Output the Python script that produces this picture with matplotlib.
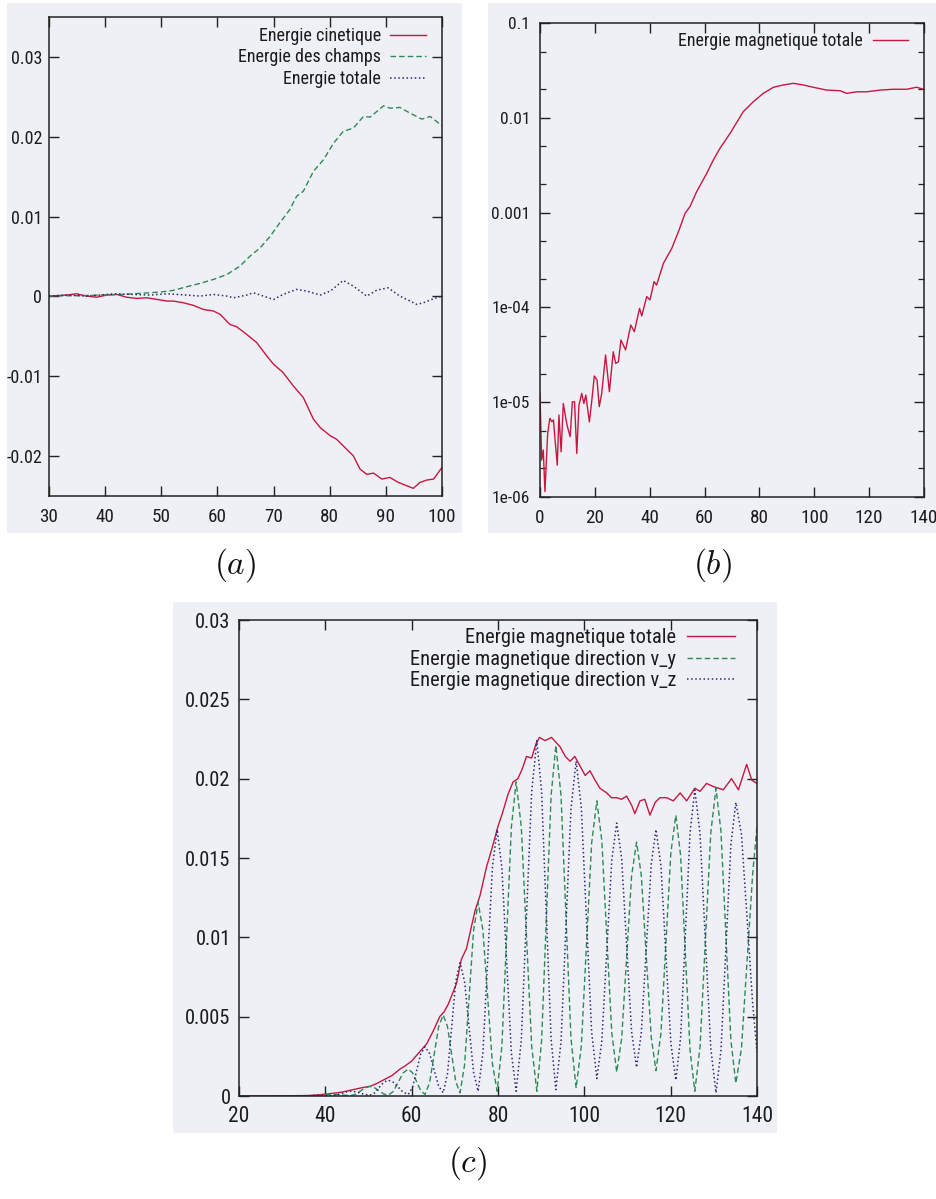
import matplotlib
matplotlib.use("Agg")
import matplotlib.pyplot as plt
from matplotlib import font_manager
from matplotlib.patches import Rectangle

# ---------------- data: panel (a) ----------------
a_cin_x = [30.0, 33.15, 34.9, 36.7, 38.5, 40.3, 42.1, 43.8, 45.6, 47.4, 49.2, 51.0, 52.1, 53.9, 55.7,
           57.5, 59.3, 60.5, 62.2, 63.4, 65.2, 67.0, 68.8, 70.0, 71.7, 73.5, 75.3, 77.1, 78.3, 80.1,
           81.2, 83.0, 84.2, 85.4, 86.6, 87.8, 89.3, 90.7, 92.2, 93.7, 94.9, 96.1, 97.3, 98.5, 100.0]
a_cin_y = [0.00004, 0.00017, 0.00033, 0.00004, -0.0001, 0.00017, 0.00025, -0.0001, -0.00025, -0.00017,
           -0.00037, -0.00058, -0.00058, -0.00079, -0.00112, -0.00163, -0.00183, -0.00225, -0.0035,
           -0.00379, -0.00475, -0.00579, -0.00746, -0.0085, -0.00954, -0.0112, -0.01267, -0.01538,
           -0.01642, -0.01746, -0.01788, -0.01913, -0.01996, -0.02163, -0.02229, -0.02213, -0.02288,
           -0.02267, -0.02329, -0.02371, -0.02404, -0.02329, -0.023, -0.02288, -0.02142]

a_cha_x = [30.0, 36.0, 43.2, 49.8, 52.1, 54.5, 56.9, 59.3, 61.7, 64.0, 65.8, 67.6, 69.4, 71.1, 72.9,
           74.1, 75.3, 77.1, 78.9, 80.7, 82.4, 84.2, 86.0, 87.2, 88.4, 89.6, 90.7, 92.5, 94.3, 96.4,
           97.9, 100.0]
a_cha_y = [0.00005, 0.0001, 0.00025, 0.00054, 0.00075, 0.00121, 0.00163, 0.00213, 0.00275, 0.00379,
           0.00504, 0.00608, 0.00754, 0.00921, 0.01088, 0.01254, 0.01317, 0.01567, 0.01713, 0.01921,
           0.02067, 0.02108, 0.02254, 0.02246, 0.02317, 0.02388, 0.02358, 0.02367, 0.02296, 0.02221,
           0.02254, 0.02138]

a_tot_x = [30.0, 33.15, 36.7, 39.1, 41.5, 45.0, 48.0, 51.0, 54.5, 56.9, 59.3, 61.7, 62.9, 65.2, 66.4,
           68.2, 70.0, 71.7, 74.1, 75.9, 78.3, 80.1, 82.4, 84.2, 86.6, 88.4, 90.4, 92.5, 95.5, 96.7,
           98.5, 100.0]
a_tot_y = [0.00004, 0.00017, 0.00004, 0.00017, 0.00033, 0.00025, 0.00017, 0.00033, 0.00017, 0.00004,
           0.00025, 0.00004, -0.00017, 0.00017, 0.00046, 0.00004, -0.00038, 0.00025, 0.00088, 0.00067,
           0.00017, 0.00067, 0.002, 0.00129, 0.00004, 0.00079, 0.00108, 0.00004, -0.001, -0.00079,
           -0.00029, 0.00004]

# ---------------- data: panel (b) ----------------
b_x = [0.0, 0.6, 1.2, 1.8, 2.8, 3.6, 4.3, 4.9, 5.5, 6.3, 6.9, 7.7, 8.5, 9.4, 10.0, 11.0, 11.8, 12.6,
       13.4, 14.2, 15.2, 16.0, 16.7, 18.0, 18.9, 19.8, 20.8, 21.6, 22.5, 23.9, 25.3, 26.7, 27.6, 28.6,
       29.5, 31.2, 33.1, 34.4, 36.3, 37.1, 38.9, 40.1, 41.6, 42.5, 45.0, 48.0, 50.7, 52.9, 54.7, 57.1,
       60.8, 63.2, 65.6, 69.3, 74.1, 77.8, 81.4, 85.1, 88.7, 92.4, 96.0, 99.6, 104.5, 109.4, 111.8,
       115.5, 119.1, 124.0, 128.8, 133.7, 137.3, 139.8]
b_y = [1.24e-5, 2.45e-6, 3.13e-6, 1.14e-6, 4.7e-6, 6.76e-6, 6.22e-6, 6.49e-6, 3.99e-6, 2.17e-6,
       7.33e-6, 3.0e-6, 9.7e-6, 6.76e-6, 5.52e-6, 4.33e-6, 1.01e-5, 1.01e-5, 2.88e-6, 9.3e-6,
       1.24e-5, 9.7e-6, 1.19e-5, 6.2e-6, 1.05e-5, 1.89e-5, 1.71e-5, 8.97e-6, 1.24e-5, 3.15e-5,
       1.29e-5, 3.41e-5, 2.57e-5, 2.67e-5, 4.53e-5, 3.56e-5, 6.52e-5, 5.55e-5, 9.77e-5, 8.13e-5,
       1.30e-4, 1.20e-4, 1.87e-4, 1.72e-4, 2.92e-4, 4.17e-4, 6.55e-4, 9.84e-4, 1.16e-3, 1.66e-3,
       2.60e-3, 3.59e-3, 4.76e-3, 6.85e-3, 1.16e-2, 1.48e-2, 1.81e-2, 2.10e-2, 2.22e-2, 2.31e-2,
       2.22e-2, 2.10e-2, 1.96e-2, 1.93e-2, 1.81e-2, 1.88e-2, 1.88e-2, 1.96e-2, 2.0e-2, 2.0e-2,
       2.1e-2, 2.0e-2]

# ---------------- data: panel (c) ----------------
c_tot_x = [20.0, 30.0, 36.0, 40.3, 44.0, 46.4, 49.0, 50.5, 52.0, 53.4, 55.5, 57.3, 58.5, 60.0, 61.9,
           63.5, 65.0, 66.5, 67.5, 68.5, 70.4, 71.5, 72.7, 74.7, 75.8, 77.4, 78.5, 80.0, 81.0, 82.3,
           83.5, 84.6, 85.6, 86.6, 87.8, 88.8, 89.6, 90.9, 92.4, 94.4, 95.6, 96.7, 97.8, 99.0, 100.2,
           101.3, 102.5, 103.6, 105.2, 106.3, 107.5, 108.6, 109.8, 111.0, 111.7, 112.9, 114.0, 115.2,
           116.4, 117.5, 119.1, 120.6, 122.2, 123.7, 125.6, 126.8, 128.3, 129.9, 132.2, 134.1, 135.7,
           137.6, 138.8, 140.0]
c_tot_y = [0.0, 0.00001, 0.00003, 0.00012, 0.00025, 0.0004, 0.00055, 0.00062, 0.0008, 0.001, 0.0013,
           0.0017, 0.0019, 0.0022, 0.0028, 0.0033, 0.0041, 0.005, 0.0053, 0.0058, 0.0071, 0.0086,
           0.0093, 0.0117, 0.0126, 0.0145, 0.0155, 0.017, 0.0178, 0.019, 0.0198, 0.02, 0.0206, 0.0214,
           0.0213, 0.0222, 0.0226, 0.0224, 0.0226, 0.022, 0.0214, 0.0211, 0.0214, 0.0208, 0.0202,
           0.0205, 0.0199, 0.0194, 0.0191, 0.0188, 0.0188, 0.0187, 0.0189, 0.0183, 0.0178, 0.0186,
           0.0187, 0.0177, 0.0185, 0.0188, 0.0188, 0.0186, 0.0191, 0.0186, 0.0194, 0.0192, 0.0197,
           0.0195, 0.0193, 0.02, 0.0193, 0.0209, 0.0199, 0.0197]

c_vy_x = [20.0, 30.0, 37.0, 41.5, 42.6, 43.75, 44.9, 46.0, 47.1, 48.15, 49.2, 50.3, 51.4, 52.45, 53.5,
          54.6, 55.75, 56.9, 58.05, 59.2, 60.2, 61.15, 62.1, 63.1, 64.15, 65.2, 66.25, 67.3, 68.3,
          69.25, 70.2, 71.2, 72.25, 73.3, 74.35, 75.4, 76.5, 77.6, 78.7, 79.8, 80.9, 82.0, 83.1, 84.2,
          85.4, 86.6, 87.8, 89.0, 90.1, 91.2, 92.3, 93.4, 94.6, 95.75, 96.9, 98.1, 99.3, 100.5, 101.7,
          102.9, 104.05, 105.2, 106.35, 107.5, 108.65, 109.8, 110.95, 112.1, 113.2, 114.35, 115.5,
          116.6, 117.75, 118.9, 120.05, 121.2, 122.3, 123.4, 124.5, 125.6, 126.8, 128.05, 129.3,
          130.5, 131.65, 132.8, 133.95, 135.1, 136.4, 137.7, 139.0, 140.0]
c_vy_y = [0.0, 0.0, 0.00002, 0.0001, 0.00009, 0.000065, 0.00004, 0.00003, 0.000113, 0.000315,
          0.000517, 0.0006, 0.00052, 0.000325, 0.00013, 0.00005, 0.00029, 0.000875, 0.00146, 0.0017,
          0.00147, 0.0009, 0.00033, 0.0001, 0.00083, 0.0026, 0.00437, 0.0051, 0.00438, 0.00265,
          0.00092, 0.0002, 0.00195, 0.0062, 0.01045, 0.0122, 0.01046, 0.00625, 0.00204, 0.0003,
          0.00315, 0.01005, 0.01695, 0.0198, 0.01695, 0.01005, 0.00315, 0.0003, 0.00348, 0.0112,
          0.01892, 0.0221, 0.01895, 0.0113, 0.00365, 0.0005, 0.00314, 0.00955, 0.01596, 0.0186,
          0.0161, 0.01005, 0.004, 0.0015, 0.00362, 0.00875, 0.01388, 0.016, 0.0139, 0.0088, 0.0037,
          0.0016, 0.00395, 0.00965, 0.01535, 0.0177, 0.01516, 0.009, 0.00284, 0.0003, 0.00309,
          0.00985, 0.01661, 0.0194, 0.01668, 0.0101, 0.00352, 0.0008, 0.003, 0.0085, 0.014, 0.017]

c_vz_x = [20.0, 30.0, 37.0, 41.5, 42.6, 43.75, 44.9, 46.0, 47.1, 48.15, 49.2, 50.3, 51.4, 52.45, 53.5,
          54.6, 55.75, 56.9, 58.05, 59.2, 60.2, 61.15, 62.1, 63.1, 64.15, 65.2, 66.25, 67.3, 68.3,
          69.25, 70.2, 71.2, 72.25, 73.3, 74.35, 75.4, 76.5, 77.6, 78.7, 79.8, 80.9, 82.0, 83.1, 84.2,
          85.4, 86.6, 87.8, 89.0, 90.1, 91.2, 92.3, 93.4, 94.6, 95.75, 96.9, 98.1, 99.3, 100.5, 101.7,
          102.9, 104.05, 105.2, 106.35, 107.5, 108.65, 109.8, 110.95, 112.1, 113.2, 114.35, 115.5,
          116.6, 117.75, 118.9, 120.05, 121.2, 122.3, 123.4, 124.5, 125.6, 126.8, 128.05, 129.3,
          130.5, 131.65, 132.8, 133.95, 135.1, 136.4, 137.7, 139.0, 140.0]
c_vz_y = [0.0, 0.0, 0.00002, 0.00002, 0.00006, 0.00016, 0.00026, 0.0003, 0.00026, 0.00018, 0.00009,
          0.00005, 0.00019, 0.00053, 0.00086, 0.001, 0.00087, 0.00055, 0.00023, 0.0001, 0.00054,
          0.0016, 0.00266, 0.0031, 0.00268, 0.00165, 0.00062, 0.0002, 0.0014, 0.0043, 0.0072, 0.0084,
          0.00722, 0.00435, 0.00148, 0.0003, 0.00271, 0.00855, 0.01439, 0.0168, 0.01439, 0.00855,
          0.00271, 0.0003, 0.00353, 0.01135, 0.01917, 0.0224, 0.01919, 0.0114, 0.00361, 0.0004,
          0.00342, 0.01075, 0.01808, 0.0211, 0.01818, 0.0111, 0.00402, 0.0011, 0.00345, 0.00915,
          0.01485, 0.0172, 0.01495, 0.0095, 0.00405, 0.0018, 0.00399, 0.0093, 0.01461, 0.0168,
          0.01449, 0.0089, 0.00331, 0.001, 0.00367, 0.01015, 0.01663, 0.0193, 0.01651, 0.00975,
          0.00299, 0.0002, 0.00287, 0.00935, 0.01583, 0.0185, 0.0165, 0.0112, 0.0058, 0.0028]

labels_a = ["Energie cinetique", "Energie des champs", "Energie totale"]
labels_b = ["Energie magnetique totale"]
labels_c = ["Energie magnetique totale", "Energie magnetique direction v_y",
            "Energie magnetique direction v_z"]

# ---------------- font choice (prefer a narrow Helvetica-like face) ----------------
entries = [(f.name, f.stretch) for f in font_manager.fontManager.ttflist]
names = {n for n, _ in entries}
FAM, STRETCH = 'Liberation Sans', 'normal'
for cand in ['Liberation Sans Narrow', 'Roboto Condensed', 'Open Sans Condensed',
             'Noto Sans Condensed', 'DejaVu Sans Condensed']:
    if cand in names:
        FAM, STRETCH = cand, 'normal'
        break
else:
    for base in ['Noto Sans', 'Roboto', 'Open Sans', 'DejaVu Sans']:
        st = [s for n, s in entries if n == base and 'condensed' in str(s)]
        if st:
            FAM, STRETCH = base, st[0]
            break
plt.rcParams['font.family'] = [FAM, 'DejaVu Sans']
plt.rcParams['font.stretch'] = STRETCH
plt.rcParams['mathtext.fontset'] = 'cm'

# ---------------- styling ----------------
W, H = 936, 1199
BG = '#eef0f6'
RED = '#c8173f'
GREEN = '#2e8a55'
BLUE = '#2a2a78'
TXT = '#1c1c1c'
LW = 1.0
PX = 100 / 72.0

fig = plt.figure(figsize=(W / 100, H / 100), dpi=100)
fig.patch.set_facecolor('white')
renderer = fig.canvas.get_renderer()

def fit(text, target_w, max_size, widen=1.2):
    t = fig.text(0, 0, text, fontsize=10)
    w = t.get_window_extent(renderer).width
    t.remove()
    return min(10 * target_w / w * widen, max_size)

def px_rect(x0, y0, x1, y1):
    return [x0 / W, 1 - y1 / H, (x1 - x0) / W, (y1 - y0) / H]

for (x0, y0, x1, y1) in [(7, 3, 462, 533), (488, 3, 936, 533), (173, 602, 777, 1133)]:
    l, b, w, h = px_rect(x0, y0, x1, y1)
    fig.patches.append(Rectangle((l, b), w, h, transform=fig.transFigure,
                                 facecolor=BG, edgecolor='none', zorder=-10))

def style(ax, xpad, ypad, xfs, yfs):
    ax.set_zorder(5)
    ax.set_facecolor('none')
    for s in ax.spines.values():
        s.set_linewidth(1.1)
        s.set_color('#222222')
    ax.tick_params(which='major', direction='in', top=True, right=True, length=7,
                   width=1.0, color='#222222', labelcolor=TXT)
    ax.tick_params(axis='x', which='major', pad=xpad, labelsize=xfs)
    ax.tick_params(axis='y', which='major', pad=ypad, labelsize=yfs)

def make_legend(ax, anchor, fs, hl_px, gap_px, ls):
    fpx = fs * PX
    lg = ax.legend(loc='upper right', bbox_to_anchor=anchor, markerfirst=False, frameon=False,
                   fontsize=fs, handlelength=hl_px / fpx, handletextpad=gap_px / fpx,
                   borderpad=0, borderaxespad=0, labelspacing=ls)
    for t in lg.get_texts():
        t.set_color(TXT)
    return lg

def legend(ax, box, fs, right_px, row1_px, row_gap, hl_px, gap_px):
    x0, y0, x1, y1 = box
    fpx = fs * PX
    ax_h = y1 - y0
    ax_w = x1 - x0
    top = row1_px - 0.6 * fpx
    anchor = (1 - (x1 - right_px) / ax_w, 1 - (top - y0) / ax_h)
    ls = 0.3
    lg = make_legend(ax, anchor, fs, hl_px, gap_px, ls)
    fig.canvas.draw()
    cents = [H - 0.5 * (bb.y0 + bb.y1) for bb in
             (t.get_window_extent(renderer) for t in lg.get_texts())]
    if len(cents) > 1:
        meas_gap = (cents[-1] - cents[0]) / (len(cents) - 1)
        ls = max(0.0, ls + (row_gap - meas_gap) / fpx)
    shift = row1_px - cents[0]
    anchor = (anchor[0], anchor[1] - shift / ax_h)
    lg.remove()
    return make_legend(ax, anchor, fs, hl_px, gap_px, ls)

# ---------------- panel (a) ----------------
box_a = (49, 17, 442, 496)
axa = fig.add_axes(px_rect(*box_a))
axa.plot(a_cin_x, a_cin_y, color=RED, lw=LW, label=labels_a[0])
axa.plot(a_cha_x, a_cha_y, color=GREEN, lw=LW, ls=(0, (4, 2.2)), label=labels_a[1])
axa.plot(a_tot_x, a_tot_y, color=BLUE, lw=LW * 1.1, ls=(0, (1, 1.7)), label=labels_a[2])
axa.set_xlim(30, 100)
axa.set_ylim(-0.025, 0.035)
axa.set_xticks(range(30, 101, 10))
axa.set_yticks([-0.02, -0.01, 0, 0.01, 0.02, 0.03])
axa.set_yticklabels(['-0.02', '-0.01', '0', '0.01', '0.02', '0.03'])
style(axa, 9, 5, fit('100', 20, 15, 1.4), fit('0.03', 26, 15))
legend(axa, box_a, fit(labels_a[0], 101, 13.5), 426, 36, 21.5, 36, 9)

# ---------------- panel (b) ----------------
box_b = (540, 23, 924, 497)
axb = fig.add_axes(px_rect(*box_b))
axb.plot(b_x, b_y, color=RED, lw=LW, label=labels_b[0])
axb.set_yscale('log')
axb.set_xlim(0, 140)
axb.set_ylim(1e-6, 0.1)
axb.set_xticks(range(0, 141, 20))
axb.set_yticks([1e-6, 1e-5, 1e-4, 1e-3, 1e-2, 1e-1])
axb.set_yticklabels(['1e-06', '1e-05', '1e-04', '0.001', '0.01', '0.1'])
axb.yaxis.set_minor_locator(matplotlib.ticker.LogLocator(base=10, subs=(2.0, 5.0)))
axb.yaxis.set_minor_formatter(matplotlib.ticker.NullFormatter())
style(axb, 9, 7, fit('140', 20, 15, 1.4), fit('0.001', 32, 15))
axb.tick_params(which='minor', direction='in', left=True, right=True, length=4,
                width=0.9, color='#222222')
legend(axb, box_b, fit(labels_b[0], 153, 14.5), 908, 41, 21.5, 35, 10)

# ---------------- panel (c) ----------------
box_c = (239, 620, 757, 1096)
axc = fig.add_axes(px_rect(*box_c))
axc.plot(c_tot_x, c_tot_y, color=RED, lw=LW, label=labels_c[0])
axc.plot(c_vy_x, c_vy_y, color=GREEN, lw=LW, ls=(0, (4, 2.2)), label=labels_c[1])
axc.plot(c_vz_x, c_vz_y, color=BLUE, lw=LW * 1.1, ls=(0, (1, 1.7)), label=labels_c[2])
axc.set_xlim(20, 140)
axc.set_ylim(0, 0.03)
axc.set_xticks(range(20, 141, 20))
axc.set_yticks([0, 0.005, 0.01, 0.015, 0.02, 0.025, 0.03])
axc.set_yticklabels(['0', '0.005', '0.01', '0.015', '0.02', '0.025', '0.03'])
style(axc, 7, 6, fit('140', 34, 15.5, 1.0), fit('0.025', 45, 15, 1.0))
legend(axc, box_c, fit(labels_c[1], 263, 15, 1.0), 735, 638, 21.5, 48, 11)

# ---------------- captions ----------------
for s, (x, y) in {'(a)': (235, 565), '(b)': (712, 565), '(c)': (468, 1163)}.items():
    fig.text(x / W, 1 - y / H, r'$' + s + r'$', ha='center', va='center', fontsize=24, color='#111111')

fig.savefig('out.png', dpi=100, facecolor='white')
